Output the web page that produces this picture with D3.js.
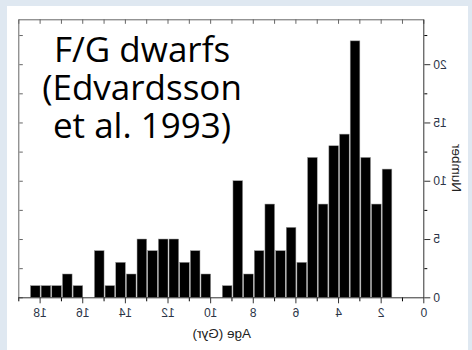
<!DOCTYPE html>
<html>
<head>
<meta charset="utf-8">
<script src="https://cdn.jsdelivr.net/npm/d3@7/dist/d3.min.js"></script>
<style>
  body { margin: 0; background: #dfe8f1; }
  svg { display: block; }
  .tick text { font-family: "Liberation Sans", Arial, sans-serif; font-size: 12px; fill: #2b3447; }
</style>
</head>
<body>
<svg id="chart" width="472" height="350"></svg>
<script>
// histogram bins: older edge of each 0.5 Gyr bin
var binFrom = [18.5, 18, 17.5, 17, 16.5, 16, 15.5, 15, 14.5, 14, 13.5, 13, 12.5, 12, 11.5, 11, 10.5, 10,
               9.5, 9, 8.5, 8, 7.5, 7, 6.5, 6, 5.5, 5, 4.5, 4, 3.5, 3, 2.5, 2];
var counts = [1, 1, 1, 2, 1, 0, 4, 1, 3, 2, 5, 4, 5, 5, 3, 4, 2, 0,
              1, 10, 2, 4, 8, 4, 6, 3, 12, 8, 13, 14, 22, 12, 8, 11];
var binWidth = 0.5;

var xMajor = [0, 2, 4, 6, 8, 10, 12, 14, 16, 18];
var xMinor = [1, 3, 5, 7, 9, 11, 13, 15, 17, 19];
var xAll = [0, 1, 2, 3, 4, 5, 6, 7, 8, 9, 10, 11, 12, 13, 14, 15, 16, 17, 18, 19];
var yMajor = [0, 5, 10, 15, 20];
var yMinor = [2.5, 7.5, 12.5, 17.5, 22.5];
var yAll = [0, 2.5, 5, 7.5, 10, 12.5, 15, 17.5, 20, 22.5];

var titleLines = ["F/G dwarfs", "(Edvardsson", "et al. 1993)"];

var W = 472, H = 350;
var svg = d3.select("#chart");

// white panel
svg.append("rect").attr("x", 7).attr("y", 6).attr("width", 461).attr("height", 344).attr("fill", "#fff");

// the chart is shown mirrored left-right, so draw it normally and flip the group
var g = svg.append("g").attr("transform", "translate(" + W + ",0) scale(-1,1)");

var x = d3.scaleLinear().domain([0, 19]).range([47.7, 452.7]);
var y = d3.scaleLinear().domain([0, 23.85]).range([297.3, 19.3]);

g.selectAll("rect.bar")
  .data(binFrom)
  .enter().append("rect")
  .attr("class", "bar")
  .attr("x", function(d) { return x(d - binWidth) + 0.5; })
  .attr("width", function(d) { return x(d) - x(d - binWidth) - 1; })
  .attr("y", function(d, i) { return y(counts[i]); })
  .attr("height", function(d, i) { return y(0) - y(counts[i]); })
  .attr("fill", "#000")
  .attr("stroke", "#999")
  .attr("stroke-width", 0.5);

// frame: top and far side with small inward ticks
var frameTop = g.append("g").attr("transform", "translate(0," + y.range()[1] + ")")
  .call(d3.axisTop(x).tickValues(xAll).tickSize(-4.5).tickSizeOuter(0).tickFormat(""));
var frameSide = g.append("g").attr("transform", "translate(" + x.range()[1] + ",0)")
  .call(d3.axisRight(y).tickValues(yAll).tickSize(-3.5).tickSizeOuter(0).tickFormat(""));
frameTop.selectAll("path, line").attr("stroke", "#666");
frameSide.selectAll("path, line").attr("stroke", "#666");

// bottom axis
var xMin = g.append("g").attr("transform", "translate(0," + y(0) + ")")
  .call(d3.axisBottom(x).tickValues(xMinor).tickSize(4).tickSizeOuter(0).tickFormat(""));
xMin.select(".domain").remove();
var xAx = g.append("g").attr("transform", "translate(0," + y(0) + ")")
  .call(d3.axisBottom(x).tickValues(xMajor).tickSize(6).tickPadding(5).tickSizeOuter(0));

// number axis
var yMin = g.append("g").attr("transform", "translate(" + x(0) + ",0)")
  .call(d3.axisLeft(y).tickValues(yMinor).tickSize(3).tickSizeOuter(0).tickFormat(""));
yMin.select(".domain").remove();
var yAx = g.append("g").attr("transform", "translate(" + x(0) + ",0)")
  .call(d3.axisLeft(y).tickValues(yMajor).tickSize(6).tickPadding(3).tickSizeOuter(0));

g.selectAll(".domain, .tick line").attr("stroke-width", 1);
xAx.selectAll(".domain, line").attr("stroke", "#333");
yAx.selectAll(".domain, line").attr("stroke", "#333");

g.append("text")
  .attr("x", 250.2).attr("y", 338)
  .attr("text-anchor", "middle")
  .style("font-family", "Liberation Sans, Arial, sans-serif")
  .style("font-size", "13.5px")
  .attr("fill", "#222")
  .text("Age (Gyr)");

g.append("text")
  .attr("transform", "translate(20.5,168) rotate(-90)")
  .attr("text-anchor", "middle")
  .style("font-family", "Liberation Sans, Arial, sans-serif")
  .style("font-size", "13.5px")
  .attr("fill", "#222")
  .text("Number");

// big caption, not mirrored: one text block with a line per tspan
svg.append("text")
  .attr("text-anchor", "middle")
  .style("font-family", "Open Sans, sans-serif")
  .style("font-size", "35px")
  .attr("fill", "#000")
  .selectAll("tspan")
  .data(titleLines)
  .enter().append("tspan")
  .attr("x", 142)
  .attr("y", function(d, i) { return 62 + i * 37.8; })
  .text(function(d) { return d; });
</script>
</body>
</html>
